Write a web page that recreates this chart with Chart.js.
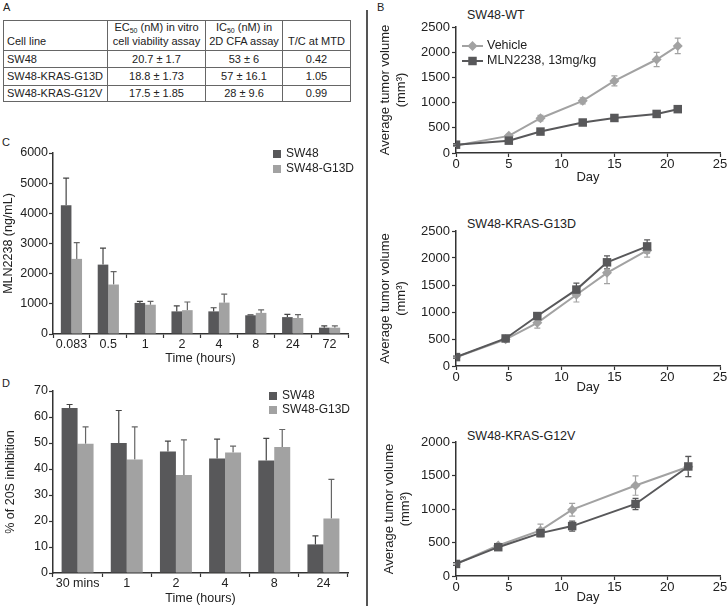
<!DOCTYPE html>
<html>
<head>
<meta charset="utf-8">
<script src="https://cdn.jsdelivr.net/npm/chart.js@4.4.1/dist/chart.umd.min.js"></script>
<style>
body{margin:0;width:728px;height:606px;position:relative;background:#fff;font-family:"Liberation Sans",Arial,sans-serif;color:#222;overflow:hidden}
canvas{position:absolute}
.lbl{position:absolute;font-size:11px;line-height:12px;white-space:nowrap}
.ttl{position:absolute;font-size:12.5px;line-height:13px;white-space:nowrap}
#divider{position:absolute;left:366px;top:10px;width:1.5px;height:596px;background:#555}
#tbl{position:absolute;left:3px;top:20px;border-collapse:collapse;table-layout:fixed;width:347px;font-size:11px;border:1.5px solid #444}
#tbl td{border:1px solid #666;padding:0 3px;text-align:center;line-height:13px}
#tbl td:first-child{text-align:left}
#tbl tr.head td{vertical-align:bottom;padding-bottom:2px}
#tbl sub{font-size:7px;vertical-align:baseline;position:relative;top:2px}
</style>
</head>
<body>
<div class="lbl" style="left:3px;top:1px">A</div>
<div class="lbl" style="left:377px;top:1px">B</div>
<div class="lbl" style="left:2px;top:136px">C</div>
<div class="lbl" style="left:2px;top:377px">D</div>
<div id="divider"></div>

<table id="tbl">
  <colgroup><col style="width:104px"><col style="width:98px"><col style="width:77px"><col style="width:68px"></colgroup>
  <tbody id="tbody">
    <tr class="head" style="height:30px">
      <td>Cell line</td>
      <td>EC<sub>50</sub> (nM) in vitro<br>cell viability assay</td>
      <td>IC<sub>50</sub> (nM) in<br>2D CFA assay</td>
      <td>T/C at MTD</td>
    </tr>
  </tbody>
</table>

<div class="ttl" style="left:467px;top:9px">SW48-WT</div>
<div class="ttl" style="left:467px;top:218px">SW48-KRAS-G13D</div>
<div class="ttl" style="left:467px;top:430px">SW48-KRAS-G12V</div>

<canvas id="wt" width="356" height="190" style="left:372px;top:0px"></canvas>
<canvas id="g13d" width="356" height="195" style="left:372px;top:200px"></canvas>
<canvas id="g12v" width="356" height="206" style="left:372px;top:400px"></canvas>
<canvas id="pk" width="360" height="226" style="left:0px;top:140px"></canvas>
<canvas id="pd" width="360" height="231" style="left:0px;top:375px"></canvas>

<script>
const darkGrey = '#58585a';
const lightGrey = '#a2a2a2';
const axisColor = '#333';

// A: table
const cellLines = ['SW48', 'SW48-KRAS-G13D', 'SW48-KRAS-G12V'];
const ec50 = ['20.7 ± 1.7', '18.8 ± 1.73', '17.5 ± 1.85'];
const ic50 = ['53 ± 6', '57 ± 16.1', '28 ± 9.6'];
const tcMTD = ['0.42', '1.05', '0.99'];
const rowHeights = [17, 18, 16];

// B: tumor volume (mm3) by day
const wtDays = [0, 5, 8, 12, 15, 19, 21];
const wtVehicle = [150, 340, 690, 1035, 1430, 1855, 2125];
const wtVehicleErr = [20, 30, 55, 60, 100, 140, 155];
const wtMln = [165, 245, 425, 605, 695, 775, 870];
const wtMlnErr = [20, 25, 30, 25, 25, 30, 30];

const g13dDays = [0, 4.7, 7.7, 11.4, 14.3, 18.1];
const g13dVehicle = [160, 495, 800, 1320, 1725, 2140];
const g13dVehicleErr = [20, 30, 100, 135, 200, 125];
const g13dMln = [165, 510, 925, 1415, 1920, 2215];
const g13dMlnErr = [20, 30, 50, 120, 120, 120];

const g12vDays = [0, 4, 8, 11, 17, 22];
const g12vVehicle = [180, 455, 680, 990, 1350, 1630];
const g12vVehicleErr = [20, 30, 95, 95, 145, 150];
const g12vMln = [180, 430, 640, 745, 1075, 1635];
const g12vMlnErr = [20, 30, 40, 75, 85, 150];

// C: plasma MLN2238 (ng/mL)
const pkTimes = ['0.083', '0.5', '1', '2', '4', '8', '24', '72'];
const pkSW48 = [4270, 2300, 1030, 750, 750, 620, 560, 210];
const pkSW48Err = [900, 550, 50, 180, 120, 15, 90, 60];
const pkG13D = [2490, 1640, 970, 790, 1040, 700, 530, 210];
const pkG13DErr = [540, 430, 110, 270, 280, 100, 110, 60];

// D: % of 20S inhibition
const pdTimes = ['30 mins', '1', '2', '4', '8', '24'];
const pdSW48 = [63.5, 50, 46.7, 44, 43.3, 11];
const pdSW48Err = [1.3, 12.5, 4, 7.5, 8.5, 3.3];
const pdG13D = [49.7, 43.7, 37.7, 46.3, 48.5, 21];
const pdG13DErr = [6.5, 12.5, 13.5, 2.5, 6.7, 15];

// build table rows
const tbody = document.getElementById('tbody');
cellLines.forEach((name, i) => {
  const tr = document.createElement('tr');
  tr.style.height = rowHeights[i] + 'px';
  [name, ec50[i], ic50[i], tcMTD[i]].forEach((txt) => {
    const td = document.createElement('td');
    td.textContent = txt;
    tr.appendChild(td);
  });
  tbody.appendChild(tr);
});

Chart.defaults.font.family = '"Liberation Sans", Arial, sans-serif';
Chart.defaults.color = '#222';

const errorBars = {
  id: 'errorBars',
  beforeDatasetsDraw(chart) {
    const ctx = chart.ctx;
    const yScale = chart.scales.y;
    chart.data.datasets.forEach((ds, i) => {
      if (!ds.errors) return;
      const meta = chart.getDatasetMeta(i);
      ctx.save();
      ctx.strokeStyle = ds.errorColor || ds.borderColor;
      ctx.lineWidth = 1.2;
      meta.data.forEach((el, j) => {
        const raw = ds.data[j];
        const v = typeof raw === 'object' ? raw.y : raw;
        const e = ds.errors[j];
        const top = yScale.getPixelForValue(v + e);
        const bot = ds.bothSides ? yScale.getPixelForValue(v - e) : el.y;
        const c = ds.capWidth;
        ctx.beginPath();
        ctx.moveTo(el.x, bot);
        ctx.lineTo(el.x, top);
        ctx.moveTo(el.x - c, top);
        ctx.lineTo(el.x + c, top);
        if (ds.bothSides) {
          ctx.moveTo(el.x - c, bot);
          ctx.lineTo(el.x + c, bot);
        }
        ctx.stroke();
      });
      ctx.restore();
    });
  }
};

const lineLegend = {
  id: 'lineLegend',
  afterDraw(chart, args, opts) {
    if (!opts.show) return;
    const ctx = chart.ctx;
    ctx.save();
    ctx.font = '12.5px "Liberation Sans"';
    ctx.textBaseline = 'middle';
    chart.data.datasets.forEach((ds, i) => {
      const y = opts.y + i * opts.gap;
      const cx = opts.x + opts.len / 2;
      const r = ds.pointRadius;
      ctx.strokeStyle = ds.borderColor;
      ctx.lineWidth = 2;
      ctx.beginPath();
      ctx.moveTo(opts.x, y);
      ctx.lineTo(opts.x + opts.len, y);
      ctx.stroke();
      ctx.fillStyle = ds.backgroundColor;
      ctx.beginPath();
      if (ds.pointStyle === 'rectRot') {
        ctx.moveTo(cx, y - r);
        ctx.lineTo(cx + r, y);
        ctx.lineTo(cx, y + r);
        ctx.lineTo(cx - r, y);
        ctx.closePath();
      } else {
        const h = r * Math.SQRT1_2;
        ctx.rect(cx - h, y - h, 2 * h, 2 * h);
      }
      ctx.fill();
      ctx.fillStyle = '#222';
      ctx.fillText(ds.label, opts.x + opts.len + 4, y);
    });
    ctx.restore();
  }
};

const boxLegend = {
  id: 'boxLegend',
  afterDraw(chart, args, opts) {
    const ctx = chart.ctx;
    ctx.save();
    ctx.font = '12px "Liberation Sans"';
    ctx.textBaseline = 'middle';
    chart.data.datasets.forEach((ds, i) => {
      const y = opts.y + i * opts.gap;
      ctx.fillStyle = ds.backgroundColor;
      ctx.fillRect(opts.x, y - opts.box / 2, opts.box, opts.box);
      ctx.fillStyle = '#222';
      ctx.fillText(ds.label, opts.x + opts.box + 5, y);
    });
    ctx.restore();
  }
};

function axisBase(size) {
  return {
    border: { display: true, color: axisColor, width: 1.5 },
    grid: { display: true, drawOnChartArea: false, drawTicks: true, tickLength: 4, tickWidth: 1.2, tickColor: axisColor },
    ticks: {
      color: '#222', padding: 1, font: { size: size, lineHeight: 1.1 },
      maxRotation: 0, minRotation: 0, autoSkip: false,
    },
  };
}

function plainNumber(v) {
  return String(v);
}

function tumorChart(id, days, veh, vehErr, mln, mlnErr, yMax, box) {
  const x = axisBase(13);
  x.type = 'linear';
  x.min = 0;
  x.max = 25;
  x.ticks.stepSize = 5;
  x.ticks.padding = 0;
  x.ticks.callback = plainNumber;
  x.title = { display: true, text: 'Day', color: '#222', font: { size: 13 }, padding: { top: 0, bottom: box.pb } };
  x.afterFit = (s) => { s.height = box.xH; };

  const y = axisBase(13);
  y.min = 0;
  y.max = yMax;
  y.ticks.stepSize = 500;
  y.ticks.padding = 2;
  y.ticks.callback = plainNumber;
  y.title = { display: true, text: ['Average tumor volume', '(mm³)'], color: '#222', font: { size: 13 }, padding: { top: box.yt, bottom: 0 } };
  y.afterFit = (s) => { s.width = 84; };

  return new Chart(document.getElementById(id), {
    type: 'line',
    data: {
      datasets: [
        {
          label: 'Vehicle',
          data: days.map((d, i) => ({ x: d, y: veh[i] })),
          errors: vehErr, bothSides: true, capWidth: 3,
          borderColor: lightGrey, backgroundColor: lightGrey,
          pointStyle: 'rectRot', pointRadius: 5, pointBorderWidth: 0,
          borderWidth: 2, order: 2,
        },
        {
          label: 'MLN2238, 13mg/kg',
          data: days.map((d, i) => ({ x: d, y: mln[i] })),
          errors: mlnErr, bothSides: true, capWidth: 3,
          borderColor: darkGrey, backgroundColor: darkGrey,
          pointStyle: 'rect', pointRadius: 6, pointBorderWidth: 0,
          borderWidth: 2, order: 1,
        },
      ],
    },
    options: {
      responsive: false,
      animation: false,
      devicePixelRatio: 1,
      layout: { padding: { top: box.top, right: 8, bottom: 0, left: 0 } },
      plugins: {
        legend: { display: false },
        tooltip: { enabled: false },
        lineLegend: box.legend || { show: false },
      },
      scales: { x: x, y: y },
    },
    plugins: [errorBars, lineLegend],
  });
}

function barChart(id, labels, a, aErr, b, bErr, yMax, step, yTitle, catPct, box) {
  const x = axisBase(12.5);
  x.ticks.padding = 0;
  x.grid.offset = true;
  x.title = { display: true, text: 'Time (hours)', color: '#222', font: { size: 12.5 }, padding: { top: 0, bottom: box.pb } };
  x.afterFit = (s) => { s.height = box.xH; };

  const y = axisBase(12.5);
  y.min = 0;
  y.max = yMax;
  y.ticks.stepSize = step;
  y.ticks.callback = plainNumber;
  y.title = { display: true, text: yTitle, color: '#222', font: { size: 12.5 }, padding: { top: box.yt, bottom: 0 } };
  y.afterFit = (s) => { s.width = 53; };

  return new Chart(document.getElementById(id), {
    type: 'bar',
    data: {
      labels: labels,
      datasets: [
        { label: 'SW48', data: a, errors: aErr, capWidth: 3, errorColor: '#444', backgroundColor: darkGrey, borderColor: darkGrey },
        { label: 'SW48-G13D', data: b, errors: bErr, capWidth: 3, errorColor: '#666', backgroundColor: lightGrey, borderColor: lightGrey },
      ],
    },
    options: {
      responsive: false,
      animation: false,
      devicePixelRatio: 1,
      barPercentage: 1,
      categoryPercentage: catPct,
      layout: { padding: { top: box.top, right: 12, bottom: 0, left: 0 } },
      plugins: {
        legend: { display: false },
        tooltip: { enabled: false },
        boxLegend: box.legend,
      },
      scales: { x: x, y: y },
    },
    plugins: [errorBars, boxLegend],
  });
}

tumorChart('wt', wtDays, wtVehicle, wtVehicleErr, wtMln, wtMlnErr, 2500,
  { top: 27, xH: 37, pb: 5, yt: 6, legend: { show: true, x: 90, y: 46, gap: 15, len: 21 } });
tumorChart('g13d', g13dDays, g13dVehicle, g13dVehicleErr, g13dMln, g13dMlnErr, 2500,
  { top: 31, xH: 29, pb: 0, yt: 6 });
tumorChart('g12v', g12vDays, g12vVehicle, g12vVehicleErr, g12vMln, g12vMlnErr, 2000,
  { top: 42, xH: 30, pb: 1, yt: 10 });

barChart('pk', pkTimes, pkSW48, pkSW48Err, pkG13D, pkG13DErr, 6000, 1000, 'MLN2238 (ng/mL)', 0.575,
  { top: 13, xH: 32, pb: 0, yt: 1, legend: { x: 273, y: 14, gap: 15, box: 8 } });
barChart('pd', pdTimes, pdSW48, pdSW48Err, pdG13D, pdG13DErr, 70, 10, '% of 20S inhibition', 0.65,
  { top: 16, xH: 33, pb: 0, yt: 3, legend: { x: 269, y: 21, gap: 14, box: 8 } });
</script>
</body>
</html>
